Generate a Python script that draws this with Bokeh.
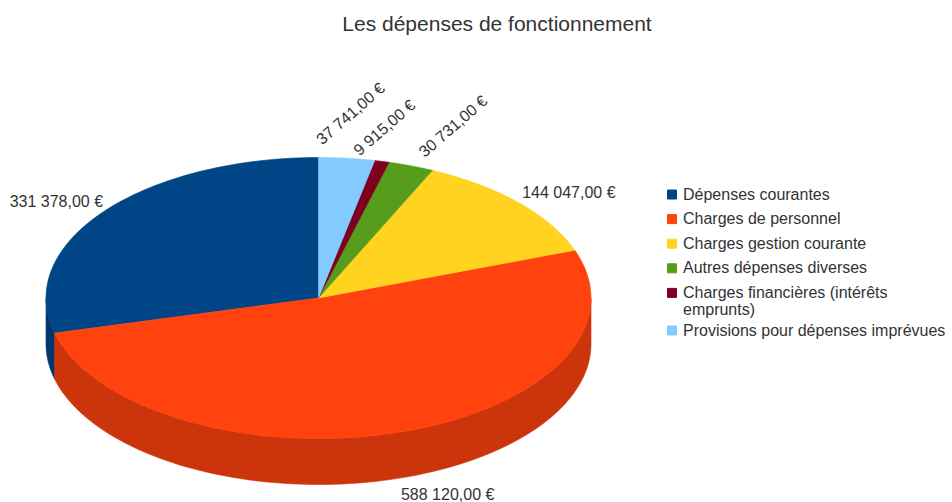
import numpy as np
from bokeh.plotting import figure
from bokeh.models import Range1d, ColumnDataSource
from bokeh.core.properties import value
from bokeh.embed import file_html
from bokeh.resources import INLINE

# ---------------- data ----------------
title = "Les dépenses de fonctionnement"
categories = [
    "Dépenses courantes",
    "Charges de personnel",
    "Charges gestion courante",
    "Autres dépenses diverses",
    "Charges financières (intérêts\nemprunts)",
    "Provisions pour dépenses imprévues",
]
amounts = [331378.00, 588120.00, 144047.00, 30731.00, 9915.00, 37741.00]
value_labels = ["331 378,00 €", "588 120,00 €", "144 047,00 €",
                "30 731,00 €", "9 915,00 €", "37 741,00 €"]
colors = ["#004586", "#ff420e", "#ffd320", "#579d1c", "#7e0021", "#83caff"]

# ---------------- layout ----------------
W, H = 952, 502
CX, CY = 318.0, 297.5      # centre of the top ellipse (page pixels)
RX, RY = 272.5, 140.5      # ellipse radii
DEPTH = 46.0               # thickness of the 3D disc
FONT = "Liberation Sans"
TXT = "#333333"

# label placement relative to the slice mid-point (dx, dy, align, angle)
label_layout = [
    (0, -10, "right", 0.0),
    (2, 16, "left", 0.0),
    (3, -10, "left", 0.0),
    (10, -12, "left", np.radians(41)),
    (-26, -9, "left", np.radians(41)),
    (-28, -17, "left", np.radians(41)),
]


def shade(hexcol, f=0.8):
    h = hexcol.lstrip("#")
    r, g, b = (int(h[i:i + 2], 16) for i in (0, 2, 4))
    return "#%02x%02x%02x" % (int(r * f), int(g * f), int(b * f))


def ex(t):
    return CX + RX * np.cos(t)


def ey(t):
    return CY - RY * np.sin(t)


vals = np.array(amounts, dtype=float)
frac = vals / vals.sum()
start = np.pi / 2 + 2 * np.pi * np.concatenate([[0.0], np.cumsum(frac)[:-1]])
end = start + 2 * np.pi * frac
mid = (start + end) / 2

p = figure(width=W, height=H, x_range=Range1d(0, W), y_range=Range1d(H, 0),
           output_backend="svg", toolbar_location=None, min_border=0,
           x_axis_location=None, y_axis_location=None,
           outline_line_color=None, background_fill_color="white",
           border_fill_color="white")
p.grid.visible = False

# side walls (only the front half, angles in [pi, 2pi], is visible)
side_xs, side_ys, side_cols = [], [], []
for s, e, c in zip(start, end, colors):
    for lo, hi in ((np.pi, 2 * np.pi), (3 * np.pi, 4 * np.pi)):
        b0, b1 = max(s, lo), min(e, hi)
        if b1 > b0:
            t = np.linspace(b0, b1, 120)
            xs = list(ex(t)) + list(ex(t)[::-1])
            ys = list(ey(t)) + list((ey(t) + DEPTH)[::-1])
            side_xs.append(xs)
            side_ys.append(ys)
            side_cols.append(shade(c, 0.8))
p.patches(xs=side_xs, ys=side_ys, fill_color=side_cols, line_color=side_cols,
          line_width=0.6)

# top faces
top_xs, top_ys = [], []
for s, e in zip(start, end):
    t = np.linspace(s, e, max(8, int(240 * (e - s) / (2 * np.pi))))
    top_xs.append([CX] + list(ex(t)))
    top_ys.append([CY] + list(ey(t)))
p.patches(xs=top_xs, ys=top_ys, fill_color=colors, line_color=colors, line_width=0.6)

# value labels
for m, lab, (dx, dy, al, ang) in zip(mid, value_labels, label_layout):
    bx, by = ex(m), ey(m)
    if np.sin(m) < 0:
        by += DEPTH
    p.text(x=[bx + dx], y=[by + dy], text=[lab], angle=ang,
           text_align=al, text_baseline="middle",
           text_font=value(FONT), text_font_size="16px", text_color=TXT)

# title
p.text(x=[496.5], y=[23], text=[title], text_align="center", text_baseline="middle",
       text_font=value(FONT), text_font_size="21px", text_color=TXT)

# legend
LX, LY0, STEP, EXTRA = 671.5, 194.0, 24.6, 13.0
ys_leg = []
y = LY0
for cat in categories:
    ys_leg.append(y)
    y += STEP + EXTRA * cat.count("\n")
leg = ColumnDataSource(dict(x=[LX] * len(categories), y=ys_leg, c=colors,
                            tx=[LX + 11] * len(categories),
                            ty=[v - 9 for v in ys_leg], t=categories))
p.rect(x="x", y="y", width=9, height=9, fill_color="c", line_color="c", source=leg)
p.text(x="tx", y="ty", text="t", text_align="left", text_baseline="top",
       text_font=value(FONT), text_font_size="16px", text_color=TXT,
       text_line_height=1.0, source=leg)

open("out.html", "w").write(file_html(p, INLINE))
